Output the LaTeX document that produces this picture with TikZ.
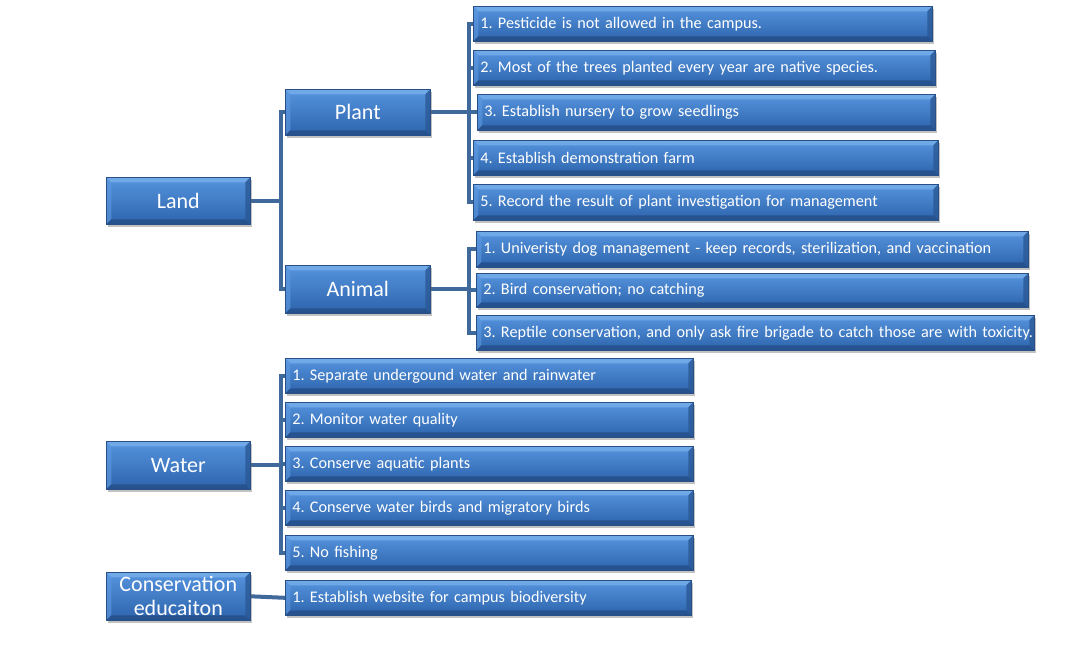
\documentclass[tikz,border=0pt]{standalone}
\usepackage{fontspec}
\setmainfont{Carlito}
\usetikzlibrary{shadows,backgrounds}
\definecolor{boxtop}{RGB}{86,148,222}
\definecolor{boxbot}{RGB}{44,100,172}
\definecolor{boxedge}{RGB}{40,80,135}
\definecolor{bevtop}{RGB}{120,175,235}
\definecolor{bevleft}{RGB}{95,155,225}
\definecolor{bevright}{RGB}{42,88,150}
\definecolor{bevbot}{RGB}{36,78,135}
\definecolor{connc}{RGB}{64,105,155}
\tikzset{
  bx/.style={draw=boxedge, line width=0.6pt, top color=boxtop, bottom color=boxbot,
    text=white, inner ysep=0pt,
    drop shadow={shadow xshift=2pt, shadow yshift=-3pt, opacity=0.4, fill=black!60},
    path picture={
      \fill[bevtop,opacity=0.8] (path picture bounding box.north west) -- (path picture bounding box.north east)
        -- ([xshift=-5pt,yshift=-5pt]path picture bounding box.north east) -- ([xshift=5pt,yshift=-5pt]path picture bounding box.north west) -- cycle;
      \fill[bevleft,opacity=0.6] (path picture bounding box.north west) -- ([xshift=5pt,yshift=-5pt]path picture bounding box.north west)
        -- ([xshift=5pt,yshift=5pt]path picture bounding box.south west) -- (path picture bounding box.south west) -- cycle;
      \fill[bevright,opacity=0.8] (path picture bounding box.north east) -- ([xshift=-5pt,yshift=-5pt]path picture bounding box.north east)
        -- ([xshift=-5pt,yshift=5pt]path picture bounding box.south east) -- (path picture bounding box.south east) -- cycle;
      \fill[bevbot,opacity=0.8] (path picture bounding box.south west) -- ([xshift=5pt,yshift=5pt]path picture bounding box.south west)
        -- ([xshift=-5pt,yshift=5pt]path picture bounding box.south east) -- (path picture bounding box.south east) -- cycle;
    }},
  mainbox/.style={bx, font=\fontsize{22}{24}\selectfont, align=center},
  leafbox/.style={bx, font=\fontsize{16.2}{18}\selectfont\frenchspacing, align=left, inner xsep=7pt},
  conn/.style={draw=connc, line width=4pt}
}
\newcommand\mainnode[6]{%
  \pgfmathsetmacro\mw{#4-#2}\pgfmathsetmacro\mh{#5-#3}%
  \node[mainbox, anchor=north west, minimum width=\mw pt, minimum height=\mh pt] (#1) at (#2,#3) {#6};}
\newcommand\leafnode[6]{%
  \pgfmathsetmacro\mw{#4-#2}\pgfmathsetmacro\mh{#5-#3}\pgfmathsetmacro\tw{#4-#2-14}%
  \node[leafbox, anchor=north west, minimum width=\mw pt, minimum height=\mh pt, text width=\tw pt] (#1) at (#2,#3) {\raisebox{-1pt}{\mbox{#6}}\hfill};}
\begin{document}
\begin{tikzpicture}[x=1pt,y=-1pt]
\path[use as bounding box] (0,0) rectangle (1083,649);
% main nodes
\mainnode{land}{106}{177}{250}{224}{Land}
\mainnode{plant}{285}{89}{430}{135}{Plant}
\mainnode{animal}{285}{265}{430}{313}{Animal}
\mainnode{water}{106}{441}{250}{489}{Water}
\mainnode{cons}{106}{572}{250}{620}{Conservation\\educaiton}
% plant leaves
\leafnode{p1}{473}{6}{932}{41}{1. Pesticide is not allowed in the campus.}
\leafnode{p2}{473}{50}{935}{85}{2. Most of the trees planted every year are native species.}
\leafnode{p3}{477}{94}{935}{130}{3. Establish nursery to grow seedlings}
\leafnode{p4}{473}{140}{938}{175}{4. Establish demonstration farm}
\leafnode{p5}{473}{184}{938}{220}{5. Record the result of plant investigation for management}
% animal leaves
\leafnode{a1}{476}{231}{1028}{267}{1. Univeristy dog management - keep records, sterilization, and vaccination}
\leafnode{a2}{476}{273}{1028}{307}{2. Bird conservation; no catching}
\leafnode{a3}{476}{315}{1034}{350}{3. Reptile conservation, and only ask fire brigade to catch those are with toxicity.}
% water leaves
\leafnode{w1}{285}{358}{693}{393}{1. Separate undergound water and rainwater}
\leafnode{w2}{285}{402}{693}{437}{2. Monitor water quality}
\leafnode{w3}{285}{446}{693}{481}{3. Conserve aquatic plants}
\leafnode{w4}{285}{490}{693}{525}{4. Conserve water birds and migratory birds}
\leafnode{w5}{285}{535}{693}{570}{5. No fishing}
% conservation leaf
\leafnode{c1}{285}{580}{691}{615}{1. Establish website for campus biodiversity}
% connectors
\begin{scope}[on background layer]
\foreach \t in {plant,animal} \draw[conn] (land.east) -- ++(30,0) |- (\t.west);
\foreach \t in {p1,p2,p3,p4,p5} \draw[conn] (plant.east) -- ++(38,0) |- (\t.west);
\foreach \t in {a1,a2,a3} \draw[conn] (animal.east) -- ++(38,0) |- (\t.west);
\foreach \t in {w1,w2,w3,w4,w5} \draw[conn] (water.east) -- ++(30,0) |- (\t.west);
\draw[conn] (cons.east) -- (c1.west);
\end{scope}
\end{tikzpicture}
\end{document}
